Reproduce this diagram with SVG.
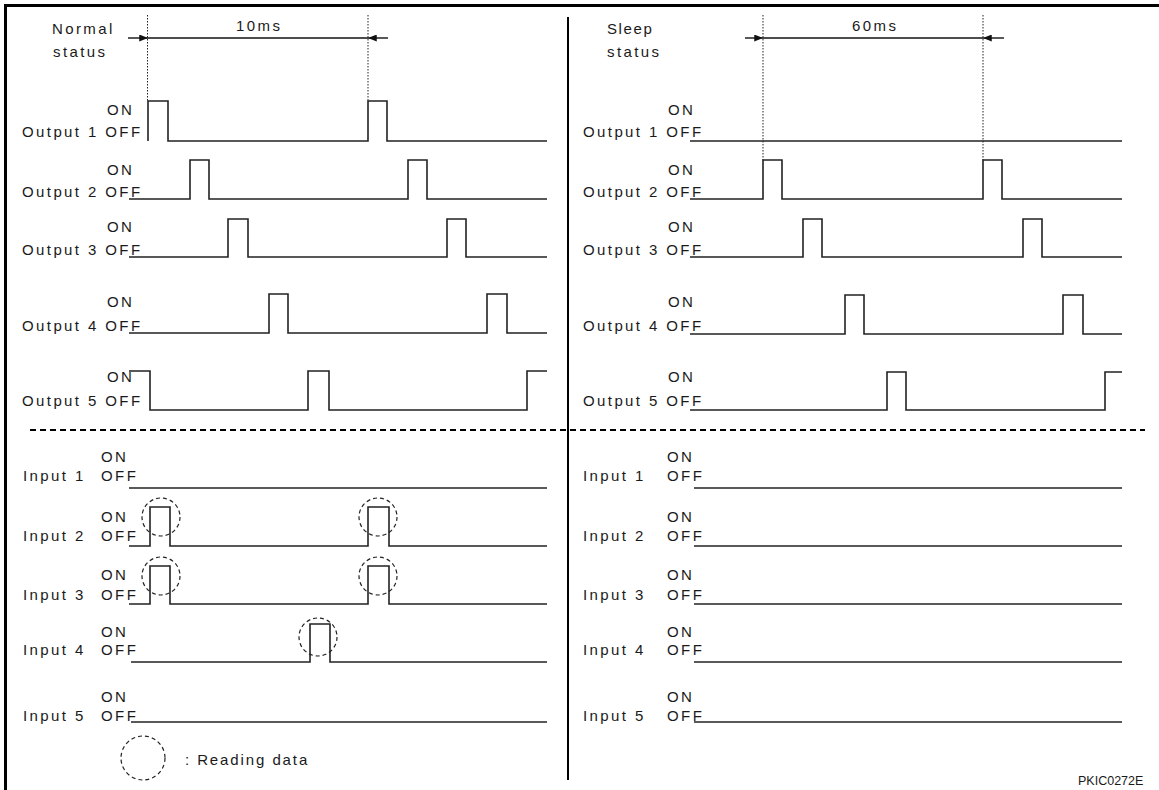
<svg xmlns="http://www.w3.org/2000/svg" width="1159" height="790" viewBox="0 0 1159 790">
<style>
text{font-family:"Liberation Sans",Arial,sans-serif;font-size:15px;fill:#1a1a1a;letter-spacing:2.4px}
.wave{fill:none;stroke:#222;stroke-width:1.6}
.dot{fill:none;stroke:#222;stroke-width:1;stroke-dasharray:1.5 1.5}
.circ{fill:none;stroke:#222;stroke-width:1.2;stroke-dasharray:4 3}
.dim{stroke:#111;stroke-width:1.4}
.code{font-size:12.5px;letter-spacing:0}
</style>
<defs>
<marker id="ah" viewBox="0 0 10 8" refX="10" refY="4" markerWidth="9" markerHeight="7" markerUnits="userSpaceOnUse" orient="auto">
<path d="M0,0 L10,4 L0,8 Z" fill="#111"/>
</marker>
</defs>
<rect width="1159" height="790" fill="#fff"/>
<g id="frame">
<line x1="4" y1="5.5" x2="1159" y2="5.5" stroke="#000" stroke-width="3"/>
<line x1="5.5" y1="4" x2="5.5" y2="790" stroke="#000" stroke-width="3"/>
<line x1="568" y1="17" x2="568" y2="780" stroke="#000" stroke-width="2"/>
<line x1="30" y1="430" x2="1145" y2="430" stroke="#000" stroke-width="2" stroke-dasharray="6 4"/>
</g>
<g id="header-left">
<text x="52" y="34">Normal</text>
<text x="53" y="57">status</text>
<text x="236" y="31">10ms</text>
</g>
<g id="header-right">
<text x="607" y="34" style="letter-spacing:1.6px">Sleep</text>
<text x="607" y="57">status</text>
<text x="852" y="31">60ms</text>
</g>
<g id="connectors">
<line class="dot" x1="147.5" y1="15" x2="147.5" y2="101"/>
<line class="dot" x1="368" y1="15" x2="368" y2="101"/>
<line class="dot" x1="763" y1="15" x2="763" y2="160"/>
<line class="dot" x1="983" y1="15" x2="983" y2="160"/>
<line class="dim" x1="128" y1="38" x2="148" y2="38" marker-end="url(#ah)"/>
<line class="dim" x1="148" y1="38" x2="368" y2="38"/>
<line class="dim" x1="388" y1="38" x2="368" y2="38" marker-end="url(#ah)"/>
<line class="dim" x1="745" y1="38" x2="763" y2="38" marker-end="url(#ah)"/>
<line class="dim" x1="763" y1="38" x2="983" y2="38"/>
<line class="dim" x1="1004" y1="38" x2="983" y2="38" marker-end="url(#ah)"/>
</g>
<g id="outputs-left">
<text x="107" y="115">ON</text><text x="22" y="137">Output 1 OFF</text>
<path class="wave" d="M148,141 V101 H168 V141 H368 V101 H387 V141 H547"/>
<text x="107" y="175">ON</text><text x="22" y="197">Output 2 OFF</text>
<path class="wave" d="M129,199 H190 V160 H209 V199 H408 V160 H427 V199 H547"/>
<text x="107" y="232">ON</text><text x="22" y="255">Output 3 OFF</text>
<path class="wave" d="M129,257 H228 V219 H248 V257 H447 V219 H466 V257 H547"/>
<text x="107" y="307">ON</text><text x="22" y="331">Output 4 OFF</text>
<path class="wave" d="M129,333 H269 V294 H288 V333 H487 V294 H507 V333 H547"/>
<text x="107" y="382">ON</text><text x="22" y="406">Output 5 OFF</text>
<path class="wave" d="M129,371 H150 V410 H308 V371 H329 V410 H527 V371 H547"/>
</g>
<g id="outputs-right">
<text x="668" y="115">ON</text><text x="583" y="137">Output 1 OFF</text>
<path class="wave" d="M690,141 H1122"/>
<text x="668" y="175">ON</text><text x="583" y="197">Output 2 OFF</text>
<path class="wave" d="M690,199 H763 V160 H782 V199 H983 V160 H1002 V199 H1122"/>
<text x="668" y="232">ON</text><text x="583" y="255">Output 3 OFF</text>
<path class="wave" d="M690,257 H803 V219 H822 V257 H1023 V219 H1042 V257 H1122"/>
<text x="668" y="307">ON</text><text x="583" y="331">Output 4 OFF</text>
<path class="wave" d="M690,334 H845 V295 H864 V334 H1063 V295 H1083 V334 H1122"/>
<text x="668" y="382">ON</text><text x="583" y="406">Output 5 OFF</text>
<path class="wave" d="M690,410 H887 V372 H906 V410 H1105 V372 H1122"/>
</g>
<g id="inputs-left">
<text x="101" y="462">ON</text><text x="23" y="481">Input 1</text><text x="101" y="481">OFF</text>
<path class="wave" d="M129,488 H547"/>
<text x="101" y="522">ON</text><text x="23" y="541">Input 2</text><text x="101" y="541">OFF</text>
<path class="wave" d="M129,546 H150 V507 H170 V546 H368 V507 H389 V546 H547"/>
<text x="101" y="580">ON</text><text x="23" y="600">Input 3</text><text x="101" y="600">OFF</text>
<path class="wave" d="M129,604 H150 V566 H170 V604 H368 V566 H389 V604 H547"/>
<text x="101" y="637">ON</text><text x="23" y="655">Input 4</text><text x="101" y="655">OFF</text>
<path class="wave" d="M131,662 H310 V624 H330 V662 H547"/>
<text x="101" y="702">ON</text><text x="23" y="721">Input 5</text><text x="101" y="721">OFF</text>
<path class="wave" d="M131,722 H547"/>
</g>
<g id="reading-marks">
<circle class="circ" cx="161" cy="517" r="19"/>
<circle class="circ" cx="378" cy="517" r="19"/>
<circle class="circ" cx="161" cy="576" r="19"/>
<circle class="circ" cx="378" cy="576" r="19"/>
<circle class="circ" cx="318" cy="637" r="19"/>
</g>
<g id="inputs-right">
<text x="667" y="462">ON</text><text x="583" y="481">Input 1</text><text x="667" y="481">OFF</text>
<path class="wave" d="M694,488 H1122"/>
<text x="667" y="522">ON</text><text x="583" y="541">Input 2</text><text x="667" y="541">OFF</text>
<path class="wave" d="M694,546 H1122"/>
<text x="667" y="580">ON</text><text x="583" y="600">Input 3</text><text x="667" y="600">OFF</text>
<path class="wave" d="M694,604 H1122"/>
<text x="667" y="637">ON</text><text x="583" y="655">Input 4</text><text x="667" y="655">OFF</text>
<path class="wave" d="M694,662 H1122"/>
<text x="667" y="702">ON</text><text x="583" y="721">Input 5</text><text x="667" y="721">OFF</text>
<path class="wave" d="M694,722 H1122"/>
</g>
<g id="legend">
<circle class="circ" cx="143" cy="758" r="22"/>
<text x="185" y="765" style="letter-spacing:1.9px">: Reading data</text>
</g>
<g id="code">
<text class="code" x="1078" y="785">PKIC0272E</text>
</g>
</svg>
